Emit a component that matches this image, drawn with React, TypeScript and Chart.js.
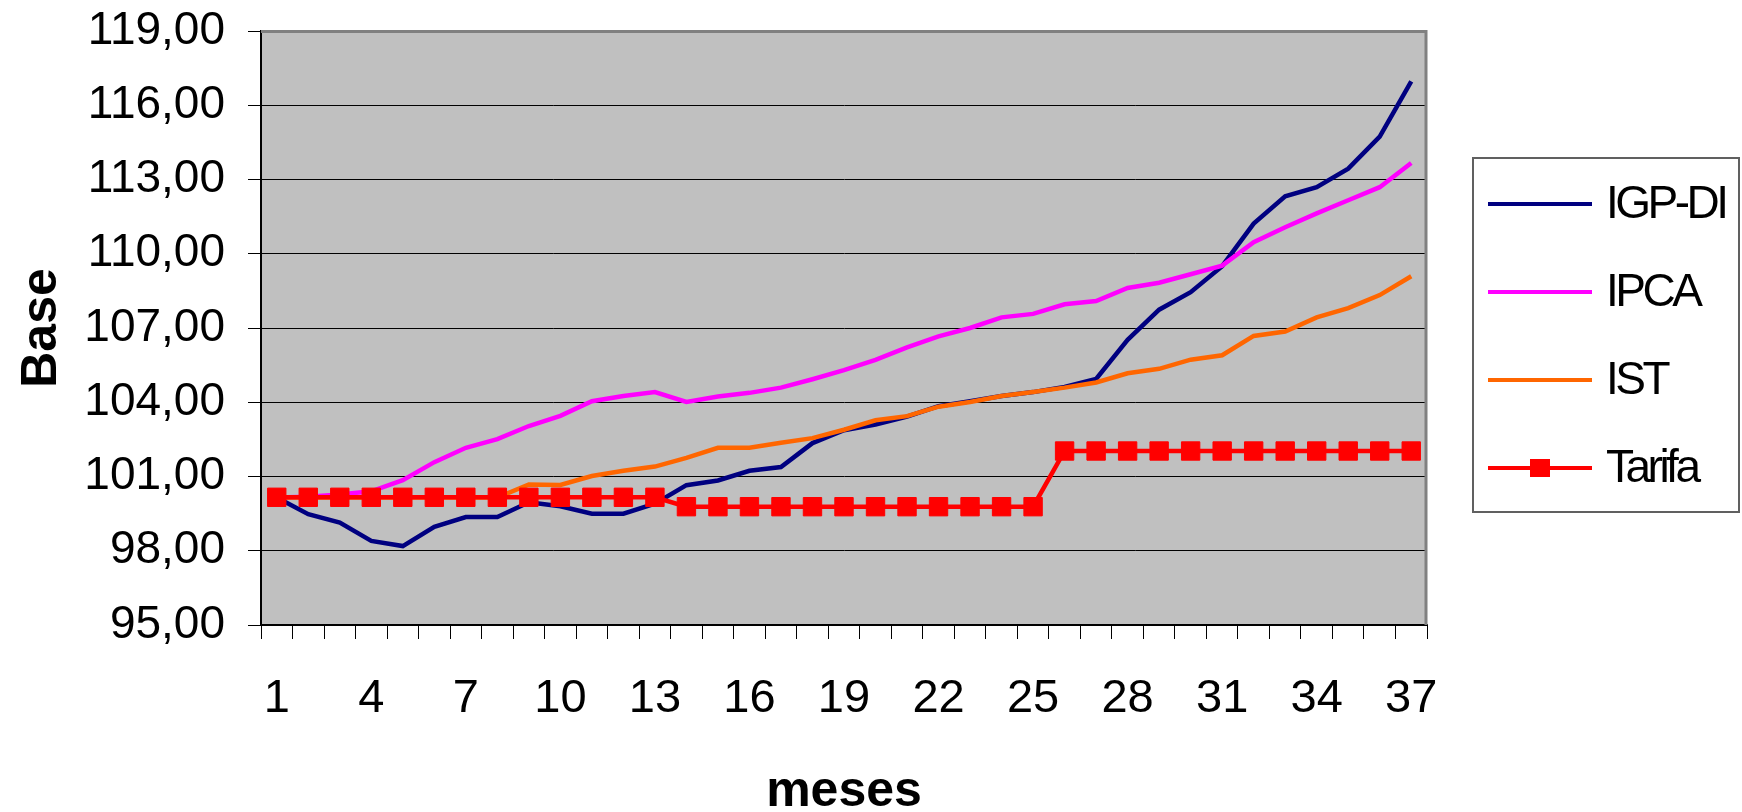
import React, { useEffect, useRef } from 'react';
import { Chart, registerables } from 'chart.js';

Chart.register(...registerables);

const months = ['1','2','3','4','5','6','7','8','9','10','11','12','13','14','15','16','17','18','19','20','21','22','23','24','25','26','27','28','29','30','31','32','33','34','35','36','37'];
const shownMonthLabels = ['1','4','7','10','13','16','19','22','25','28','31','34','37'];

const igpDi = [100.15, 99.48, 99.14, 98.40, 98.19, 98.97, 99.36, 99.36, 99.96, 99.80, 99.50, 99.50, 99.90, 100.65, 100.84, 101.23, 101.38, 102.35, 102.87, 103.10, 103.42, 103.84, 104.04, 104.25, 104.41, 104.62, 104.94, 106.52, 107.74, 108.45, 109.50, 111.22, 112.32, 112.69, 113.44, 114.73, 116.96];
const ipca = [100.15, 100.18, 100.27, 100.40, 100.85, 101.58, 102.16, 102.51, 103.04, 103.45, 104.04, 104.25, 104.41, 104.01, 104.23, 104.38, 104.59, 104.93, 105.30, 105.71, 106.22, 106.66, 107.00, 107.43, 107.57, 107.96, 108.09, 108.62, 108.83, 109.17, 109.52, 110.47, 111.07, 111.63, 112.16, 112.69, 113.67];
const ist = [100.15, 100.15, 100.15, 100.15, 100.15, 100.15, 100.15, 100.15, 100.68, 100.66, 101.02, 101.23, 101.40, 101.75, 102.16, 102.16, 102.36, 102.55, 102.89, 103.27, 103.44, 103.82, 104.01, 104.25, 104.41, 104.59, 104.80, 105.17, 105.35, 105.72, 105.90, 106.68, 106.86, 107.43, 107.80, 108.33, 109.09];
const tarifa = [100.16, 100.16, 100.16, 100.16, 100.16, 100.16, 100.16, 100.16, 100.16, 100.16, 100.16, 100.16, 100.16, 99.78, 99.78, 99.78, 99.78, 99.78, 99.78, 99.78, 99.78, 99.78, 99.78, 99.78, 99.78, 102.03, 102.03, 102.03, 102.03, 102.03, 102.03, 102.03, 102.03, 102.03, 102.03, 102.03, 102.03];

const seriesNames = ['IGP-DI', 'IPCA', 'IST', 'Tarifa'];
const seriesColors = ['#000080', '#FF00FF', '#FF6600', '#FF0000'];

const yMin = 95;
const yMax = 119;
const yStep = 3;

const FONT = '"Liberation Sans", Arial, Helvetica, sans-serif';

const plotBgPlugin = {
  id: 'plotBg',
  beforeDraw(chart: any) {
    const { ctx, chartArea } = chart;
    if (!chartArea) return;
    ctx.save();
    ctx.fillStyle = '#C0C0C0';
    ctx.fillRect(chartArea.left, chartArea.top, chartArea.right - chartArea.left, chartArea.bottom - chartArea.top);
    ctx.restore();
  },
  beforeDatasetsDraw(chart: any) {
    const { ctx, chartArea } = chart;
    ctx.save();
    ctx.strokeStyle = '#808080';
    ctx.lineWidth = 3;
    ctx.beginPath();
    ctx.moveTo(chartArea.left, chartArea.top + 0.5);
    ctx.lineTo(chartArea.right - 1, chartArea.top + 0.5);
    ctx.lineTo(chartArea.right - 1, chartArea.bottom);
    ctx.stroke();
    ctx.restore();
  },
};

const boxLegendPlugin = {
  id: 'boxLegend',
  afterDraw(chart: any) {
    const ctx = chart.ctx;
    ctx.save();
    const bx = 1473, by = 158, bw = 266, bh = 354;
    ctx.fillStyle = '#FFFFFF';
    ctx.fillRect(bx, by, bw, bh);
    ctx.strokeStyle = '#606060';
    ctx.lineWidth = 2;
    ctx.strokeRect(bx, by, bw, bh);
    chart.data.datasets.forEach((ds: any, i: number) => {
      const y = 204 + i * 88;
      ctx.strokeStyle = ds.borderColor;
      ctx.lineWidth = 4;
      ctx.beginPath();
      ctx.moveTo(1488, y);
      ctx.lineTo(1592, y);
      ctx.stroke();
      if (ds.pointRadius > 0) {
        ctx.fillStyle = ds.backgroundColor;
        ctx.fillRect(1530, y - 9, 20, 18);
      }
      ctx.fillStyle = '#000';
      ctx.font = `46px ${FONT}`;
      try { (ctx as any).letterSpacing = '-3.5px'; } catch (e) {}
      ctx.textAlign = 'left';
      ctx.textBaseline = 'alphabetic';
      ctx.fillText(ds.label, 1606, y + 14);
      try { (ctx as any).letterSpacing = '0px'; } catch (e) {}
    });
    ctx.restore();
  },
};

export default function App() {
  const canvasRef = useRef<HTMLCanvasElement | null>(null);

  useEffect(() => {
    if (!canvasRef.current) return;
    Chart.defaults.font.family = FONT;
    const values = [igpDi, ipca, ist, tarifa];
    const datasets = values.map((data, i) => {
      const isTarifa = i === 3;
      return {
        label: seriesNames[i],
        data,
        borderColor: seriesColors[i],
        backgroundColor: seriesColors[i],
        borderWidth: 4.5,
        tension: 0,
        pointRadius: isTarifa ? 13 : 0,
        pointStyle: 'rect',
        pointBorderWidth: isTarifa ? 1 : 0,
        pointBorderColor: seriesColors[i],
        pointBackgroundColor: seriesColors[i],
        order: 3 - i,
        fill: false,
      };
    });

    const chart = new Chart(canvasRef.current, {
      type: 'line',
      data: { labels: months, datasets: datasets as any },
      plugins: [plotBgPlugin, boxLegendPlugin],
      options: {
        responsive: false,
        animation: false,
        devicePixelRatio: 1,
        events: [],
        layout: { padding: { top: 31, right: 315, left: 0, bottom: 0 } },
        plugins: {
          legend: { display: false },
          tooltip: { enabled: false },
          title: { display: false },
        },
        scales: {
          x: {
            type: 'category',
            offset: true,
            afterFit: (scale: any) => {
              scale.height = 187;
              scale.paddingLeft = 0;
              scale.paddingRight = 0;
            },
            grid: {
              offset: true,
              drawOnChartArea: false,
              drawTicks: true,
              tickLength: 14,
              color: '#000',
              lineWidth: 1,
            },
            border: { display: true, color: '#000', width: 2 },
            ticks: {
              autoSkip: false,
              maxRotation: 0,
              minRotation: 0,
              padding: 32,
              color: '#000',
              font: { size: 47, family: FONT },
              callback: function (this: any, value: any, index: number) {
                const lbl = months[index];
                return shownMonthLabels.includes(lbl) ? lbl : '';
              },
            },
            title: {
              display: true,
              text: 'meses',
              color: '#000',
              font: { size: 50, weight: 'bold', family: FONT, lineHeight: 0.78 },
              padding: { top: 0, bottom: 0 },
            },
          },
          y: {
            min: yMin,
            max: yMax,
            afterFit: (scale: any) => {
              scale.width = 261;
              scale.paddingTop = 0;
              scale.paddingBottom = 0;
            },
            grid: {
              drawOnChartArea: true,
              drawTicks: true,
              tickLength: 13,
              color: '#000',
              lineWidth: 1,
            },
            border: { display: true, color: '#000', width: 2 },
            ticks: {
              stepSize: yStep,
              padding: 23,
              color: '#000',
              font: { size: 46, family: FONT },
              callback: (v: any) => Number(v).toFixed(2).replace('.', ','),
            },
            title: {
              display: true,
              text: 'Base',
              color: '#000',
              font: { size: 50, weight: 'bold', family: FONT, lineHeight: 0.85 },
              padding: { top: 21, bottom: 0 },
            },
          },
        },
      } as any,
    });
    return () => chart.destroy();
  }, []);

  return (
    <div style={{ position: 'absolute', left: 0, top: 0, width: 1742, height: 812, background: '#fff' }}>
      <canvas ref={canvasRef} width={1742} height={812} style={{ display: 'block', width: 1742, height: 812 }} />
    </div>
  );
}
